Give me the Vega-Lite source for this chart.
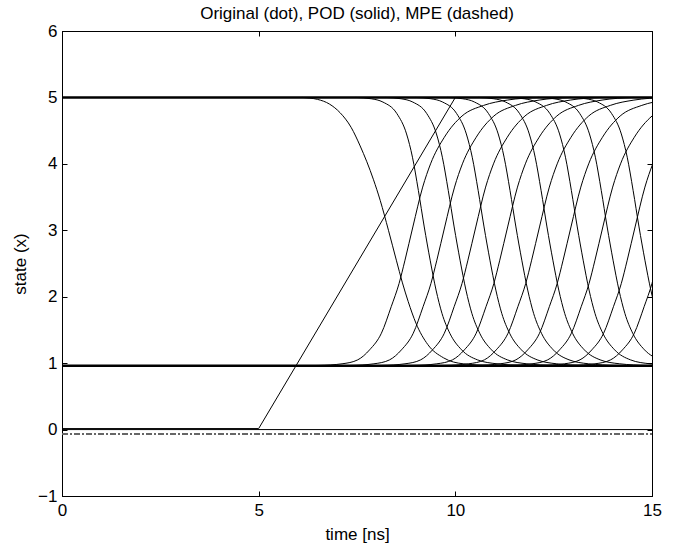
{
  "$schema": "https://vega.github.io/schema/vega-lite/v6.json",
  "width": 590,
  "height": 465,
  "autosize": "none",
  "padding": {"left": 62, "top": 31, "right": 36, "bottom": 50},
  "background": "white",
  "config": {
    "view": {"stroke": "black", "strokeWidth": 1},
    "font": "Liberation Sans",
    "axis": {"labelFont": "Liberation Sans", "titleFont": "Liberation Sans", "labelColor": "black", "titleColor": "black", "domainColor": "black", "tickColor": "black", "grid": false, "titleFontWeight": "normal", "labelFontSize": 17, "titleFontSize": 17}
  },
  "title": {"text": "Original (dot), POD (solid), MPE (dashed)", "font": "Liberation Sans", "fontSize": 17, "fontWeight": "normal", "color": "black", "anchor": "middle", "offset": 6, "dy": 7},
  "datasets": {
    "rest": [
      {"c": "hi", "t": 0, "v": 5}, {"c": "hi", "t": 15, "v": 5},
      {"c": "lo", "t": 0, "v": 0.96}, {"c": "lo", "t": 15, "v": 0.96}
    ],
    "zero": [{"c": "z", "t": 0, "v": 0}, {"c": "z", "t": 15, "v": 0}],
    "mpe": [{"c": "m", "t": 0, "v": -0.065}, {"c": "m", "t": 15, "v": -0.065}],
    "input": [{"c": "in", "t": 0, "v": 0.015}, {"c": "in", "t": 5, "v": 0.015}, {"c": "in", "t": 10, "v": 5}, {"c": "in", "t": 15, "v": 5}],
    "nodes": [
      {"c":"F1","t":6.1,"v":5.0},{"c":"F1","t":6.5,"v":4.97},{"c":"F1","t":6.8,"v":4.9},{"c":"F1","t":7.07,"v":4.77},{"c":"F1","t":7.35,"v":4.55},{"c":"F1","t":7.58,"v":4.27},{"c":"F1","t":7.92,"v":3.76},{"c":"F1","t":8.09,"v":3.45},{"c":"F1","t":8.3,"v":3.0},{"c":"F1","t":8.5,"v":2.55},{"c":"F1","t":8.65,"v":2.22},{"c":"F1","t":8.8,"v":1.93},{"c":"F1","t":9.0,"v":1.6},{"c":"F1","t":9.3,"v":1.28},{"c":"F1","t":9.7,"v":1.08},{"c":"F1","t":10.2,"v":0.99},{"c":"F1","t":10.9,"v":0.965},{"c":"F1","t":11.5,"v":0.96},

      {"c":"F2","t":7.46,"v":5.0},{"c":"F2","t":7.86,"v":4.98},{"c":"F2","t":8.16,"v":4.93},{"c":"F2","t":8.51,"v":4.76},{"c":"F2","t":8.76,"v":4.45},{"c":"F2","t":8.91,"v":4.1},{"c":"F2","t":9.06,"v":3.6},{"c":"F2","t":9.21,"v":3.05},{"c":"F2","t":9.36,"v":2.55},{"c":"F2","t":9.51,"v":2.1},{"c":"F2","t":9.66,"v":1.75},{"c":"F2","t":9.86,"v":1.45},{"c":"F2","t":10.16,"v":1.2},{"c":"F2","t":10.56,"v":1.05},{"c":"F2","t":11.06,"v":0.99},{"c":"F2","t":11.76,"v":0.965},{"c":"F2","t":12.36,"v":0.96},

      {"c":"F3","t":8.22,"v":5.0},{"c":"F3","t":8.62,"v":4.98},{"c":"F3","t":8.92,"v":4.93},{"c":"F3","t":9.27,"v":4.76},{"c":"F3","t":9.52,"v":4.45},{"c":"F3","t":9.67,"v":4.1},{"c":"F3","t":9.82,"v":3.6},{"c":"F3","t":9.97,"v":3.05},{"c":"F3","t":10.12,"v":2.55},{"c":"F3","t":10.27,"v":2.1},{"c":"F3","t":10.42,"v":1.75},{"c":"F3","t":10.62,"v":1.45},{"c":"F3","t":10.92,"v":1.2},{"c":"F3","t":11.32,"v":1.05},{"c":"F3","t":11.82,"v":0.99},{"c":"F3","t":12.52,"v":0.965},{"c":"F3","t":13.12,"v":0.96},

      {"c":"F4","t":8.98,"v":5.0},{"c":"F4","t":9.38,"v":4.98},{"c":"F4","t":9.68,"v":4.93},{"c":"F4","t":10.03,"v":4.76},{"c":"F4","t":10.28,"v":4.45},{"c":"F4","t":10.43,"v":4.1},{"c":"F4","t":10.58,"v":3.6},{"c":"F4","t":10.73,"v":3.05},{"c":"F4","t":10.88,"v":2.55},{"c":"F4","t":11.03,"v":2.1},{"c":"F4","t":11.18,"v":1.75},{"c":"F4","t":11.38,"v":1.45},{"c":"F4","t":11.68,"v":1.2},{"c":"F4","t":12.08,"v":1.05},{"c":"F4","t":12.58,"v":0.99},{"c":"F4","t":13.28,"v":0.965},{"c":"F4","t":13.88,"v":0.96},

      {"c":"F5","t":9.79,"v":5.0},{"c":"F5","t":10.19,"v":4.98},{"c":"F5","t":10.49,"v":4.93},{"c":"F5","t":10.84,"v":4.76},{"c":"F5","t":11.09,"v":4.45},{"c":"F5","t":11.24,"v":4.1},{"c":"F5","t":11.39,"v":3.6},{"c":"F5","t":11.54,"v":3.05},{"c":"F5","t":11.69,"v":2.55},{"c":"F5","t":11.84,"v":2.1},{"c":"F5","t":11.99,"v":1.75},{"c":"F5","t":12.19,"v":1.45},{"c":"F5","t":12.49,"v":1.2},{"c":"F5","t":12.89,"v":1.05},{"c":"F5","t":13.39,"v":0.99},{"c":"F5","t":14.09,"v":0.965},{"c":"F5","t":14.69,"v":0.96},

      {"c":"F6","t":10.58,"v":5.0},{"c":"F6","t":10.98,"v":4.98},{"c":"F6","t":11.28,"v":4.93},{"c":"F6","t":11.63,"v":4.76},{"c":"F6","t":11.88,"v":4.45},{"c":"F6","t":12.03,"v":4.1},{"c":"F6","t":12.18,"v":3.6},{"c":"F6","t":12.33,"v":3.05},{"c":"F6","t":12.48,"v":2.55},{"c":"F6","t":12.63,"v":2.1},{"c":"F6","t":12.78,"v":1.75},{"c":"F6","t":12.98,"v":1.45},{"c":"F6","t":13.28,"v":1.2},{"c":"F6","t":13.68,"v":1.05},{"c":"F6","t":14.18,"v":0.99},{"c":"F6","t":14.88,"v":0.965},{"c":"F6","t":15.48,"v":0.96},

      {"c":"F7","t":11.35,"v":5.0},{"c":"F7","t":11.75,"v":4.98},{"c":"F7","t":12.05,"v":4.93},{"c":"F7","t":12.4,"v":4.76},{"c":"F7","t":12.65,"v":4.45},{"c":"F7","t":12.8,"v":4.1},{"c":"F7","t":12.95,"v":3.6},{"c":"F7","t":13.1,"v":3.05},{"c":"F7","t":13.25,"v":2.55},{"c":"F7","t":13.4,"v":2.1},{"c":"F7","t":13.55,"v":1.75},{"c":"F7","t":13.75,"v":1.45},{"c":"F7","t":14.05,"v":1.2},{"c":"F7","t":14.45,"v":1.05},{"c":"F7","t":14.95,"v":0.99},{"c":"F7","t":15.65,"v":0.965},

      {"c":"F8","t":12.11,"v":5.0},{"c":"F8","t":12.51,"v":4.98},{"c":"F8","t":12.81,"v":4.93},{"c":"F8","t":13.16,"v":4.76},{"c":"F8","t":13.41,"v":4.45},{"c":"F8","t":13.56,"v":4.1},{"c":"F8","t":13.71,"v":3.6},{"c":"F8","t":13.86,"v":3.05},{"c":"F8","t":14.01,"v":2.55},{"c":"F8","t":14.16,"v":2.1},{"c":"F8","t":14.31,"v":1.75},{"c":"F8","t":14.51,"v":1.45},{"c":"F8","t":14.81,"v":1.2},{"c":"F8","t":15.21,"v":1.05},

      {"c":"F9","t":12.92,"v":5.0},{"c":"F9","t":13.32,"v":4.98},{"c":"F9","t":13.62,"v":4.93},{"c":"F9","t":13.97,"v":4.76},{"c":"F9","t":14.22,"v":4.45},{"c":"F9","t":14.37,"v":4.1},{"c":"F9","t":14.52,"v":3.6},{"c":"F9","t":14.67,"v":3.05},{"c":"F9","t":14.82,"v":2.55},{"c":"F9","t":14.97,"v":2.1},{"c":"F9","t":15.12,"v":1.75},

      {"c":"R1","t":5.92,"v":0.96},{"c":"R1","t":6.52,"v":0.965},{"c":"R1","t":7.12,"v":0.99},{"c":"R1","t":7.52,"v":1.05},{"c":"R1","t":7.82,"v":1.2},{"c":"R1","t":8.12,"v":1.45},{"c":"R1","t":8.37,"v":1.85},{"c":"R1","t":8.57,"v":2.2},{"c":"R1","t":8.72,"v":2.55},{"c":"R1","t":8.92,"v":3.05},{"c":"R1","t":9.17,"v":3.65},{"c":"R1","t":9.37,"v":4.0},{"c":"R1","t":9.72,"v":4.4},{"c":"R1","t":10.17,"v":4.72},{"c":"R1","t":10.72,"v":4.88},{"c":"R1","t":11.32,"v":4.96},{"c":"R1","t":12.12,"v":5.0},

      {"c":"R2","t":6.73,"v":0.96},{"c":"R2","t":7.33,"v":0.965},{"c":"R2","t":7.93,"v":0.99},{"c":"R2","t":8.33,"v":1.05},{"c":"R2","t":8.63,"v":1.2},{"c":"R2","t":8.93,"v":1.45},{"c":"R2","t":9.18,"v":1.85},{"c":"R2","t":9.38,"v":2.2},{"c":"R2","t":9.53,"v":2.55},{"c":"R2","t":9.73,"v":3.05},{"c":"R2","t":9.98,"v":3.65},{"c":"R2","t":10.18,"v":4.0},{"c":"R2","t":10.53,"v":4.4},{"c":"R2","t":10.98,"v":4.72},{"c":"R2","t":11.53,"v":4.88},{"c":"R2","t":12.13,"v":4.96},{"c":"R2","t":12.93,"v":5.0},

      {"c":"R3","t":7.52,"v":0.96},{"c":"R3","t":8.12,"v":0.965},{"c":"R3","t":8.72,"v":0.99},{"c":"R3","t":9.12,"v":1.05},{"c":"R3","t":9.42,"v":1.2},{"c":"R3","t":9.72,"v":1.45},{"c":"R3","t":9.97,"v":1.85},{"c":"R3","t":10.17,"v":2.2},{"c":"R3","t":10.32,"v":2.55},{"c":"R3","t":10.52,"v":3.05},{"c":"R3","t":10.77,"v":3.65},{"c":"R3","t":10.97,"v":4.0},{"c":"R3","t":11.32,"v":4.4},{"c":"R3","t":11.77,"v":4.72},{"c":"R3","t":12.32,"v":4.88},{"c":"R3","t":12.92,"v":4.96},{"c":"R3","t":13.72,"v":5.0},

      {"c":"R4","t":8.33,"v":0.96},{"c":"R4","t":8.93,"v":0.965},{"c":"R4","t":9.53,"v":0.99},{"c":"R4","t":9.93,"v":1.05},{"c":"R4","t":10.23,"v":1.2},{"c":"R4","t":10.53,"v":1.45},{"c":"R4","t":10.78,"v":1.85},{"c":"R4","t":10.98,"v":2.2},{"c":"R4","t":11.13,"v":2.55},{"c":"R4","t":11.33,"v":3.05},{"c":"R4","t":11.58,"v":3.65},{"c":"R4","t":11.78,"v":4.0},{"c":"R4","t":12.13,"v":4.4},{"c":"R4","t":12.58,"v":4.72},{"c":"R4","t":13.13,"v":4.88},{"c":"R4","t":13.73,"v":4.96},{"c":"R4","t":14.53,"v":5.0},

      {"c":"R5","t":9.14,"v":0.96},{"c":"R5","t":9.74,"v":0.965},{"c":"R5","t":10.34,"v":0.99},{"c":"R5","t":10.74,"v":1.05},{"c":"R5","t":11.04,"v":1.2},{"c":"R5","t":11.34,"v":1.45},{"c":"R5","t":11.59,"v":1.85},{"c":"R5","t":11.79,"v":2.2},{"c":"R5","t":11.94,"v":2.55},{"c":"R5","t":12.14,"v":3.05},{"c":"R5","t":12.39,"v":3.65},{"c":"R5","t":12.59,"v":4.0},{"c":"R5","t":12.94,"v":4.4},{"c":"R5","t":13.39,"v":4.72},{"c":"R5","t":13.94,"v":4.88},{"c":"R5","t":14.54,"v":4.96},{"c":"R5","t":15.34,"v":5.0},

      {"c":"R6","t":9.94,"v":0.96},{"c":"R6","t":10.54,"v":0.965},{"c":"R6","t":11.14,"v":0.99},{"c":"R6","t":11.54,"v":1.05},{"c":"R6","t":11.84,"v":1.2},{"c":"R6","t":12.14,"v":1.45},{"c":"R6","t":12.39,"v":1.85},{"c":"R6","t":12.59,"v":2.2},{"c":"R6","t":12.74,"v":2.55},{"c":"R6","t":12.94,"v":3.05},{"c":"R6","t":13.19,"v":3.65},{"c":"R6","t":13.39,"v":4.0},{"c":"R6","t":13.74,"v":4.4},{"c":"R6","t":14.19,"v":4.72},{"c":"R6","t":14.74,"v":4.88},{"c":"R6","t":15.34,"v":4.96},

      {"c":"R7","t":10.75,"v":0.96},{"c":"R7","t":11.35,"v":0.965},{"c":"R7","t":11.95,"v":0.99},{"c":"R7","t":12.35,"v":1.05},{"c":"R7","t":12.65,"v":1.2},{"c":"R7","t":12.95,"v":1.45},{"c":"R7","t":13.2,"v":1.85},{"c":"R7","t":13.4,"v":2.2},{"c":"R7","t":13.55,"v":2.55},{"c":"R7","t":13.75,"v":3.05},{"c":"R7","t":14.0,"v":3.65},{"c":"R7","t":14.2,"v":4.0},{"c":"R7","t":14.55,"v":4.4},{"c":"R7","t":15.0,"v":4.72},{"c":"R7","t":15.55,"v":4.88},

      {"c":"R8","t":11.57,"v":0.96},{"c":"R8","t":12.17,"v":0.965},{"c":"R8","t":12.77,"v":0.99},{"c":"R8","t":13.17,"v":1.05},{"c":"R8","t":13.47,"v":1.2},{"c":"R8","t":13.77,"v":1.45},{"c":"R8","t":14.02,"v":1.85},{"c":"R8","t":14.22,"v":2.2},{"c":"R8","t":14.37,"v":2.55},{"c":"R8","t":14.57,"v":3.05},{"c":"R8","t":14.82,"v":3.65},{"c":"R8","t":15.02,"v":4.0},{"c":"R8","t":15.37,"v":4.4},

      {"c":"R9","t":12.35,"v":0.96},{"c":"R9","t":12.95,"v":0.965},{"c":"R9","t":13.55,"v":0.99},{"c":"R9","t":13.95,"v":1.05},{"c":"R9","t":14.25,"v":1.2},{"c":"R9","t":14.55,"v":1.45},{"c":"R9","t":14.8,"v":1.85},{"c":"R9","t":15.0,"v":2.2},{"c":"R9","t":15.15,"v":2.55}
    ]
  },
  "layer": [
    {
      "data": {"name": "rest"},
      "mark": {"type": "line", "color": "black", "strokeWidth": 2.6, "clip": true},
      "encoding": {
        "x": {"field": "t", "type": "quantitative", "scale": {"domain": [0, 15], "nice": false, "zero": false},
              "axis": {"orient": "bottom", "values": [0, 5, 10, 15], "title": "time [ns]", "tickSize": -5, "labelPadding": 11, "titlePadding": 8, "labelFlush": false}},
        "y": {"field": "v", "type": "quantitative", "scale": {"domain": [-1, 6], "nice": false, "zero": false},
              "axis": {"orient": "left", "values": [-1, 0, 1, 2, 3, 4, 5, 6], "title": "state (x)", "tickSize": -5, "labelPadding": 10, "titlePadding": 8, "labelExpr": "replace(datum.label, '-', '\u2212')"}},
        "detail": {"field": "c"}
      }
    },
    {
      "data": {"name": "rest"},
      "mark": {"type": "line", "opacity": 0},
      "encoding": {
        "x": {"field": "t", "type": "quantitative", "axis": {"orient": "top", "values": [0, 5, 10, 15], "labels": false, "title": null, "tickSize": -5}},
        "y": {"field": "v", "type": "quantitative", "axis": {"orient": "right", "values": [-1, 0, 1, 2, 3, 4, 5, 6], "labels": false, "title": null, "tickSize": -5}},
        "detail": {"field": "c"}
      }
    },
    {
      "data": {"name": "zero"},
      "mark": {"type": "line", "color": "black", "strokeWidth": 1, "clip": true},
      "encoding": {
        "x": {"field": "t", "type": "quantitative", "axis": null},
        "y": {"field": "v", "type": "quantitative", "axis": null}
      }
    },
    {
      "data": {"name": "mpe"},
      "mark": {"type": "line", "color": "#666666", "strokeWidth": 2, "strokeDash": [6, 2, 2, 2], "clip": true},
      "encoding": {
        "x": {"field": "t", "type": "quantitative", "axis": null},
        "y": {"field": "v", "type": "quantitative", "axis": null}
      }
    },
    {
      "data": {"name": "input"},
      "mark": {"type": "line", "color": "black", "strokeWidth": 1, "clip": true},
      "encoding": {
        "x": {"field": "t", "type": "quantitative", "axis": null},
        "y": {"field": "v", "type": "quantitative", "axis": null}
      }
    },
    {
      "data": {"name": "nodes"},
      "mark": {"type": "line", "color": "black", "strokeWidth": 1, "interpolate": "monotone", "clip": true},
      "encoding": {
        "x": {"field": "t", "type": "quantitative", "axis": null},
        "y": {"field": "v", "type": "quantitative", "axis": null},
        "detail": {"field": "c"}
      }
    }
  ]
}
